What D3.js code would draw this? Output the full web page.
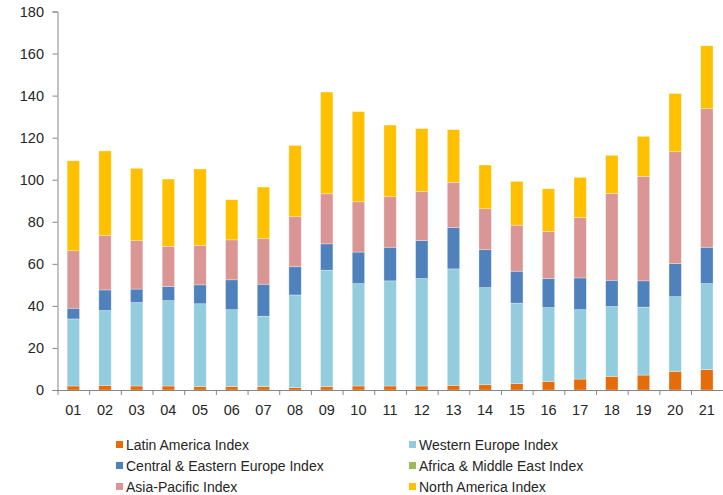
<!DOCTYPE html>
<html>
<head>
<meta charset="utf-8">
<script src="https://cdn.jsdelivr.net/npm/d3@7"></script>
<style>
  html, body { margin: 0; padding: 0; background: #fff; }
  svg { display: block; font-family: "Liberation Sans", Arial, sans-serif; }
</style>
</head>
<body>
<svg id="chart" width="723" height="495"></svg>
<script>
const categories = ["01","02","03","04","05","06","07","08","09","10","11","12","13","14","15","16","17","18","19","20","21"];
const seriesNames = ["Latin America Index","Western Europe Index","Central & Eastern Europe Index","Africa & Middle East Index","Asia-Pacific Index","North America Index"];
const latinAmerica   = [1.9,2.2,1.9,1.9,1.6,1.6,1.6,1.1,1.6,1.9,1.9,1.9,2.2,2.5,3.0,4.1,5.2,6.5,7.1,8.9,9.7];
const westernEurope  = [31.9,35.6,39.7,40.6,39.4,36.6,33.5,44.1,55.4,48.7,50.0,51.1,55.4,46.2,38.3,35.1,33.0,33.2,32.3,35.5,40.9];
const centralEastern = [5.1,9.8,6.4,6.7,9.0,14.2,15.2,13.4,12.5,15.0,16.0,18.1,19.7,18.0,15.2,13.8,15.1,12.5,12.5,15.7,17.3];
const africaMiddleEast = [0,0,0,0,0,0,0,0,0,0,0,0,0,0,0,0,0,0,0,0,0];
const asiaPacific    = [27.3,25.9,23.0,19.1,18.7,19.0,21.7,23.8,23.8,23.9,24.0,23.3,21.4,19.5,21.9,22.4,28.7,41.3,49.7,53.2,65.9];
const northAmerica   = [42.8,40.2,34.4,32.0,36.4,19.1,24.5,33.9,48.4,42.9,34.1,29.9,25.1,20.8,20.8,20.3,19.1,18.1,19.0,27.7,29.9];
const yTicks = [0,20,40,60,80,100,120,140,160,180];
const colors = ["#E46C0A","#93CDDD","#4F81BD","#9BBB59","#D99694","#FFC000"];

const seriesValues = [latinAmerica, westernEurope, centralEastern, africaMiddleEast, asiaPacific, northAmerica];
const keys = seriesNames;
const rows = categories.map((c, i) => {
  const r = { cat: c };
  keys.forEach((k, j) => r[k] = seriesValues[j][i]);
  return r;
});
const stacked = d3.stack().keys(keys)(rows);

const svg = d3.select("#chart");
const x = d3.scaleBand().domain(categories).range([57.5, 722.7]).paddingInner(0.61).paddingOuter(0.305);
const xb = d3.scaleBand().domain(categories).range([57.5, 722.7]).padding(0);
const y = d3.scaleLinear().domain([0, 180]).range([390, 11.5]);
const color = d3.scaleOrdinal().domain(keys).range(colors);

// bars
svg.append("g").selectAll("g").data(stacked).join("g")
  .attr("fill", d => color(d.key))
  .selectAll("rect").data(d => d).join("rect")
  .attr("x", d => x(d.data.cat))
  .attr("width", x.bandwidth())
  .attr("y", d => y(d[1]))
  .attr("height", d => Math.max(0, y(d[0]) - y(d[1])))
  .attr("stroke", "rgba(255,255,255,0.5)")
  .attr("stroke-width", 0.6);

// y axis
const yAxis = svg.append("g").attr("transform", "translate(57.5,0)")
  .call(d3.axisLeft(y).tickValues(yTicks).tickSize(5).tickPadding(8.5));
yAxis.select(".domain").attr("stroke", "#868686");
yAxis.selectAll(".tick line").attr("stroke", "#868686");
yAxis.selectAll("text").attr("font-size", "14.5px").attr("fill", "#262626").attr("font-family", "Liberation Sans, Arial, sans-serif");

// x axis
const xg = svg.append("g").attr("transform", "translate(0,390)");
xg.append("line").attr("x1", 57.5).attr("x2", 723).attr("y1", 0.5).attr("y2", 0.5).attr("stroke", "#868686");
xg.selectAll("line.tk").data(categories).join("line").attr("class", "tk")
  .attr("x1", d => xb(d) + 0.5).attr("x2", d => xb(d) + 0.5)
  .attr("y1", 0).attr("y2", 5).attr("stroke", "#868686");
xg.selectAll("text").data(categories).join("text")
  .attr("x", d => xb(d) + xb.bandwidth() / 2)
  .attr("y", 25)
  .attr("text-anchor", "middle")
  .attr("font-size", "14.5px")
  .attr("fill", "#262626")
  .text(d => d);

// legend
const legendPos = [[116,445],[409,445],[116,466],[409,466],[116,487],[409,487]];
const lg = svg.append("g");
keys.forEach((k, i) => {
  const [lx, ly] = legendPos[i];
  lg.append("rect").attr("x", lx).attr("y", ly - 4).attr("width", 7).attr("height", 7).attr("fill", color(k));
  lg.append("text").attr("x", lx + 10).attr("y", ly + 5).attr("font-size", "14px").attr("fill", "#262626").text(k);
});
</script>
</body>
</html>
